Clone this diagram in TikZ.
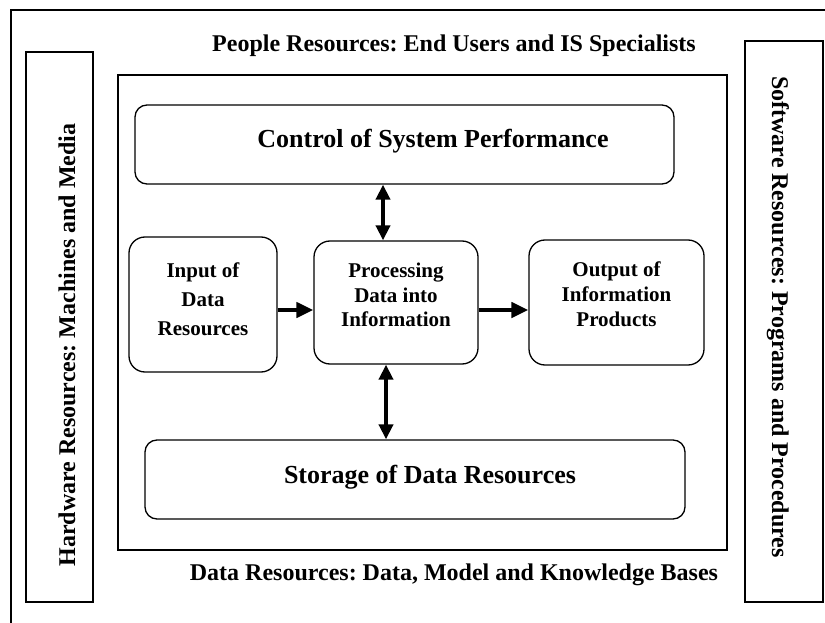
\documentclass[tikz,border=0pt]{standalone}
\usepackage{fontspec}
\setmainfont{Liberation Serif}
\frenchspacing
\usetikzlibrary{calc,arrows.meta}

\begin{document}
\begin{tikzpicture}[x=1pt,y=-1pt,
    box/.style={draw,line width=1.3pt,rounded corners=16pt,inner sep=0pt},
    bigbox/.style={draw,line width=1.3pt,rounded corners=12pt,inner sep=0pt},
    side/.style={draw,line width=1.3pt,inner sep=0pt},
    txt/.style={align=center,inner sep=0pt,font=\fontsize{21}{25}\selectfont\bfseries},
    bigtxt/.style={anchor=base,inner sep=0pt,font=\fontsize{26}{30}\selectfont\bfseries},
    lbl/.style={anchor=base,inner sep=0pt,font=\fontsize{24}{28}\selectfont\bfseries},
    fat/.style={line width=4.5pt,-{Triangle[length=17pt,width=15pt]}},
    fatboth/.style={line width=4pt,{Triangle[length=15pt,width=14pt]}-{Triangle[length=15pt,width=14pt]}}]
\useasboundingbox (0,0) rectangle (825,623);
\fill[white] (0,0) rectangle (825,623);
% frames
\draw[line width=1.3pt] (11,10) rectangle (870,670);
\draw[line width=1.3pt] (118,75) rectangle (727,550);
\node[side,minimum width=67pt,minimum height=550pt] (hw) at (59.5,327) {};
\node[side,minimum width=78pt,minimum height=561pt] (sw) at (784,321.5) {};
\node[lbl,rotate=90] (hwtxt) at (75,345) {Hardware Resources: Machines and Media};
\node[lbl,rotate=-90] (swtxt) at (772,317) {Software Resources: Programs and Procedures};
\node[lbl] (people) at (454,52) {People Resources: End Users and IS Specialists};
\node[lbl] (data) at (454,580) {Data Resources: Data, Model and Knowledge Bases};
% boxes
\node[bigbox,minimum width=539pt,minimum height=79pt] (ctrl) at (404.5,144.5) {};
\node[bigtxt] (ctrltxt) at (433,148) {Control of System Performance};
\node[bigbox,minimum width=540pt,minimum height=79pt] (store) at (415,479.5) {};
\node[bigtxt] (storetxt) at (430,483) {Storage of Data Resources};
\node[box,minimum width=148pt,minimum height=135pt] (in) at (203,304.5) {};
\node[txt,font=\fontsize{21}{29}\selectfont\bfseries] (intxt) at (203,299.5) {Input of\\Data\\Resources};
\node[box,minimum width=164pt,minimum height=123pt] (proc) at (396,302.5) {};
\node[txt,font=\fontsize{21}{24.5}\selectfont\bfseries] (proctxt) at (396,295) {Processing\\Data into\\Information};
\node[box,minimum width=175pt,minimum height=125pt] (out) at (616.5,302.5) {};
\node[txt] (outtxt) at (616.5,294) {Output of\\Information\\Products};
% arrows
\draw[fat] (in.east |- 0,310) -- (proc.west |- 0,310);
\draw[fat] (proc.east |- 0,310) -- (out.west |- 0,310);
\draw[fatboth] (ctrl.south -| 383,0) -- (proc.north -| 383,0);
\draw[fatboth] (proc.south -| 386,0) -- (store.north -| 386,0);
\end{tikzpicture}
\end{document}
